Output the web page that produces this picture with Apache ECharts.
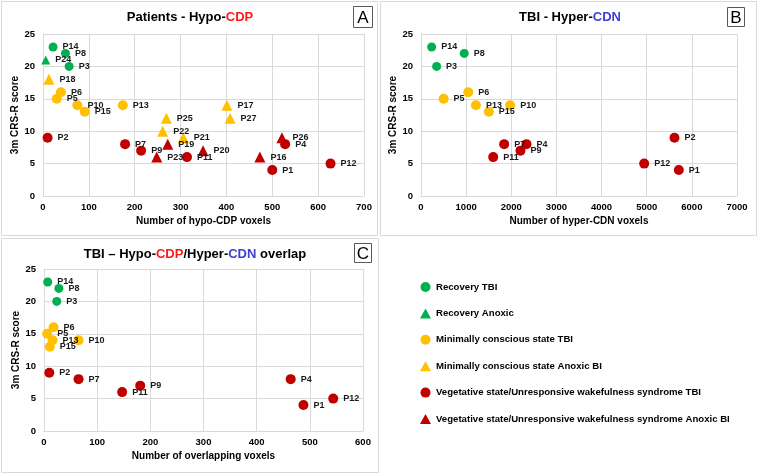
<!DOCTYPE html>
<html>
<head>
<meta charset="utf-8">
<script src="https://cdn.jsdelivr.net/npm/echarts@6/dist/echarts.min.js"></script>
<style>html,body{margin:0;padding:0;background:#fff}#c{width:758px;height:475px}</style>
</head>
<body>
<div id="c"></div>
<script>
// ---- Data (x, CRS-R score, patient) ----
// Panel A: Patients - Hypo-CDP
const aRecTBI = [[22,23,'P14'],[49,22,'P8'],[57,20,'P3']];
const aRecAnox = [[6,21,'P24']];
const aMcsTBI = [[39,16,'P6'],[30,15,'P5'],[75,14,'P10'],[91,13,'P15'],[174,14,'P13']];
const aMcsAnox = [[13,18,'P18'],[269,12,'P25'],[261,10,'P22'],[306,9,'P21'],[401,14,'P17'],[408,12,'P27']];
const aVsTBI = [[10,9,'P2'],[179,8,'P7'],[214,7,'P9'],[314,6,'P11'],[500,4,'P1'],[528,8,'P4'],[627,5,'P12']];
const aVsAnox = [[272,8,'P19'],[248,6,'P23'],[349,7,'P20'],[473,6,'P16'],[521,9,'P26']];
// Panel B: TBI - Hyper-CDN
const bRecTBI = [[236,23,'P14'],[958,22,'P8'],[346,20,'P3']];
const bMcsTBI = [[1046,16,'P6'],[501,15,'P5'],[1216,14,'P13'],[1975,14,'P10'],[1503,13,'P15']];
const bVsTBI = [[5615,9,'P2'],[1842,8,'P7'],[2336,8,'P4'],[2203,7,'P9'],[1599,6,'P11'],[4944,5,'P12'],[5711,4,'P1']];
// Panel C: TBI - overlap
const cRecTBI = [[7,23,'P14'],[28,22,'P8'],[24,20,'P3']];
const cMcsTBI = [[18,16,'P6'],[6,15,'P5'],[16,14,'P13'],[11,13,'P15'],[65,14,'P10']];
const cVsTBI = [[10,9,'P2'],[65,8,'P7'],[147,6,'P11'],[181,7,'P9'],[464,8,'P4'],[488,4,'P1'],[544,5,'P12']];

const groupNames = [
  'Recovery TBI',
  'Recovery Anoxic',
  'Minimally conscious state TBI',
  'Minimally conscious state Anoxic BI',
  'Vegetative state/Unresponsive wakefulness syndrome TBI',
  'Vegetative state/Unresponsive wakefulness syndrome Anoxic BI'
];
const xTitles = ['Number of hypo-CDP voxels','Number of hyper-CDN voxels','Number of overlapping voxels'];
const xMax = [700, 7000, 600];
const xStep = [100, 1000, 100];

// ---- Styles ----
const GREEN = '#00B050', YELLOW = '#FFC000', RED = '#C00000';
const groupColor = [GREEN, GREEN, YELLOW, YELLOW, RED, RED];
const groupSymbol = ['circle','triangle','circle','triangle','circle','triangle'];
const groupSize = [9, 9, 10, 11, 10, 11];
const FONT = 'Liberation Sans, Arial, sans-serif';
const GRID = '#D9D9D9';

const grids = [
  {left: 43, top: 34, width: 321, height: 162},
  {left: 421, top: 34, width: 316, height: 162},
  {left: 44, top: 269, width: 319, height: 162}
];

function mkX(i){
  return {gridIndex:i, type:'value', min:0, max:xMax[i], interval:xStep[i],
    name:xTitles[i], nameLocation:'middle', nameGap:20,
    nameTextStyle:{fontFamily:FONT,fontWeight:'bold',fontSize:10,color:'#000'},
    axisLine:{show:true,lineStyle:{color:GRID}}, axisTick:{show:false},
    axisLabel:{fontFamily:FONT,fontWeight:'bold',fontSize:9.5,color:'#000',margin:6,
      formatter:v => String(v)},
    splitLine:{show:true,lineStyle:{color:GRID}}};
}
function mkY(i){
  return {gridIndex:i, type:'value', min:0, max:25, interval:5,
    name:'3m CRS-R score', nameLocation:'middle', nameGap:22,
    nameTextStyle:{fontFamily:FONT,fontWeight:'bold',fontSize:10,color:'#000'},
    axisLine:{show:true,lineStyle:{color:GRID}}, axisTick:{show:false},
    axisLabel:{fontFamily:FONT,fontWeight:'bold',fontSize:9.5,color:'#000',margin:8},
    splitLine:{show:true,lineStyle:{color:GRID}}};
}
function mkSeries(panel, g, arr){
  return {
    type:'scatter', name:groupNames[g], xAxisIndex:panel, yAxisIndex:panel,
    symbol:groupSymbol[g], symbolSize:groupSize[g],
    itemStyle:{color:groupColor[g], opacity:1},
    data: arr.map(d => ({value:[d[0], d[1]], name:d[2]})),
    label:{show:true, position:'right', distance:5, formatter:'{b}',
      fontFamily:FONT, fontWeight:'bold', fontSize:9, color:'#1a1a1a'},
    labelLayout:{hideOverlap:false},
    emphasis:{disabled:true}
  };
}
const series = [
  mkSeries(0,0,aRecTBI), mkSeries(0,1,aRecAnox), mkSeries(0,2,aMcsTBI),
  mkSeries(0,3,aMcsAnox), mkSeries(0,4,aVsTBI), mkSeries(0,5,aVsAnox),
  mkSeries(1,0,bRecTBI), mkSeries(1,2,bMcsTBI), mkSeries(1,4,bVsTBI),
  mkSeries(2,0,cRecTBI), mkSeries(2,2,cMcsTBI), mkSeries(2,4,cVsTBI)
];

const titleRich = {
  k:{fontFamily:FONT,fontWeight:'bold',fontSize:13,color:'#000'},
  r:{fontFamily:FONT,fontWeight:'bold',fontSize:13,color:'#FF1A1A'},
  b:{fontFamily:FONT,fontWeight:'bold',fontSize:13,color:'#3F3FD8'}
};
function mkTitle(text, x, y){
  return {text:text, left:x, top:y, textAlign:'center', padding:0,
    textStyle:{rich:titleRich, fontSize:13}};
}

function box(x,y,w,h,stroke){
  return {type:'rect', shape:{x:x,y:y,width:w,height:h}, silent:true,
    style:{fill:'none', stroke:stroke, lineWidth:1}};
}
function letterBox(x,y,w,h,letter){
  return {type:'group', silent:true, children:[
    {type:'rect', shape:{x:x,y:y,width:w,height:h}, style:{fill:'#fff', stroke:'#595959', lineWidth:1}},
    {type:'text', x:x+w/2, y:y+h/2+1, style:{text:letter, fill:'#000', font:'17px '+FONT, textAlign:'center', textVerticalAlign:'middle'}}
  ]};
}

const chart = echarts.init(document.getElementById('c'), null, {renderer:'canvas'});
chart.setOption({
  animation:false,
  backgroundColor:'#fff',
  title:[
    mkTitle('{k|Patients - Hypo-}{r|CDP}', 190, 11),
    mkTitle('{k|TBI - Hyper-}{b|CDN}', 570, 11),
    mkTitle('{k|TBI \u2013 Hypo-}{r|CDP}{k|/Hyper-}{b|CDN}{k| overlap}', 195, 248)
  ],
  grid:grids,
  xAxis:[mkX(0),mkX(1),mkX(2)],
  yAxis:[mkY(0),mkY(1),mkY(2)],
  legend:{
    orient:'vertical', left:420, top:282, padding:0, itemWidth:11, itemHeight:10, itemGap:16.4,
    data:groupNames.map((n,i)=>({name:n, icon:groupSymbol[i]})),
    textStyle:{fontFamily:FONT, fontWeight:'bold', fontSize:9.6, color:'#000'},
    selectedMode:false
  },
  graphic:[
    box(1.5,1.5,376,234,GRID),
    box(380.5,1.5,376,234,GRID),
    box(1.5,238.5,377,234,GRID),
    letterBox(353.5,6.5,19,21,'A'),
    letterBox(727.5,7.5,17,19,'B'),
    letterBox(354.5,243.5,17,19,'C')
  ],
  series:series
});
</script>
</body>
</html>
